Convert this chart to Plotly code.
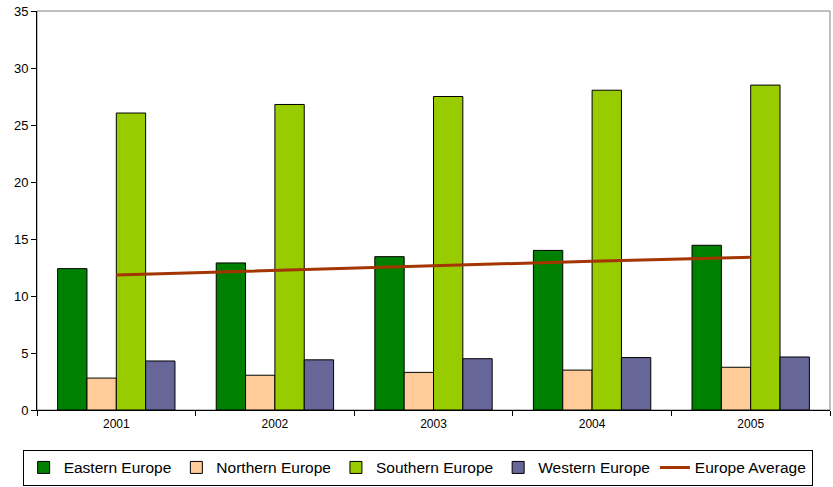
import plotly.graph_objects as go

years = ["2001", "2002", "2003", "2004", "2005"]
eastern = [12.4, 12.9, 13.45, 14.0, 14.45]
northern = [2.8, 3.05, 3.3, 3.5, 3.75]
southern = [26.05, 26.8, 27.5, 28.05, 28.5]
western = [4.3, 4.4, 4.5, 4.6, 4.65]
europe_avg = [11.85, 12.25, 12.7, 13.05, 13.4]

bar_series = [
    ("Eastern Europe", eastern, "#008000"),
    ("Northern Europe", northern, "#FFCC99"),
    ("Southern Europe", southern, "#99CC00"),
    ("Western Europe", western, "#666699"),
]

font = "Liberation Sans, Arial, sans-serif"

fig = go.Figure()
for name, vals, color in bar_series:
    fig.add_trace(go.Bar(
        x=years, y=vals, name=name,
        marker=dict(color=color, line=dict(color="#000000", width=1)),
    ))

fig.add_trace(go.Scatter(
    x=years, y=europe_avg, name="Europe Average", mode="lines",
    line=dict(color="#A33500", width=3),
))

fig.update_layout(
    width=833, height=487,
    margin=dict(l=37, r=3, t=11, b=77, autoexpand=False),
    paper_bgcolor="white", plot_bgcolor="white",
    barmode="group", bargap=0.26, bargroupgap=0,
    font=dict(family=font, color="#000000"),
    showlegend=True,
    legend=dict(
        orientation="h", x=0.48, xanchor="center", y=-0.145, yanchor="middle",
        bordercolor="#000000", borderwidth=1, bgcolor="white",
        font=dict(size=15.5, family=font),
        itemwidth=30, tracegroupgap=0,
    ),
    shapes=[dict(
        type="rect", xref="paper", yref="paper", x0=0, x1=1, y0=0, y1=1,
        line=dict(color="#808080", width=1), layer="below",
    )],
)

fig.update_xaxes(
    type="category", showline=True, linecolor="#000000", linewidth=1,
    ticks="outside", tickson="boundaries", ticklen=5, tickcolor="#000000",
    tickfont=dict(size=12), ticklabelstandoff=3,
    showgrid=False, zeroline=False,
)
fig.update_yaxes(
    range=[0, 35], dtick=5, showline=True, linecolor="#000000", linewidth=1,
    ticks="outside", ticklen=5, tickcolor="#000000",
    tickfont=dict(size=13), showgrid=False, zeroline=False,
)

fig.write_html("out.html")
